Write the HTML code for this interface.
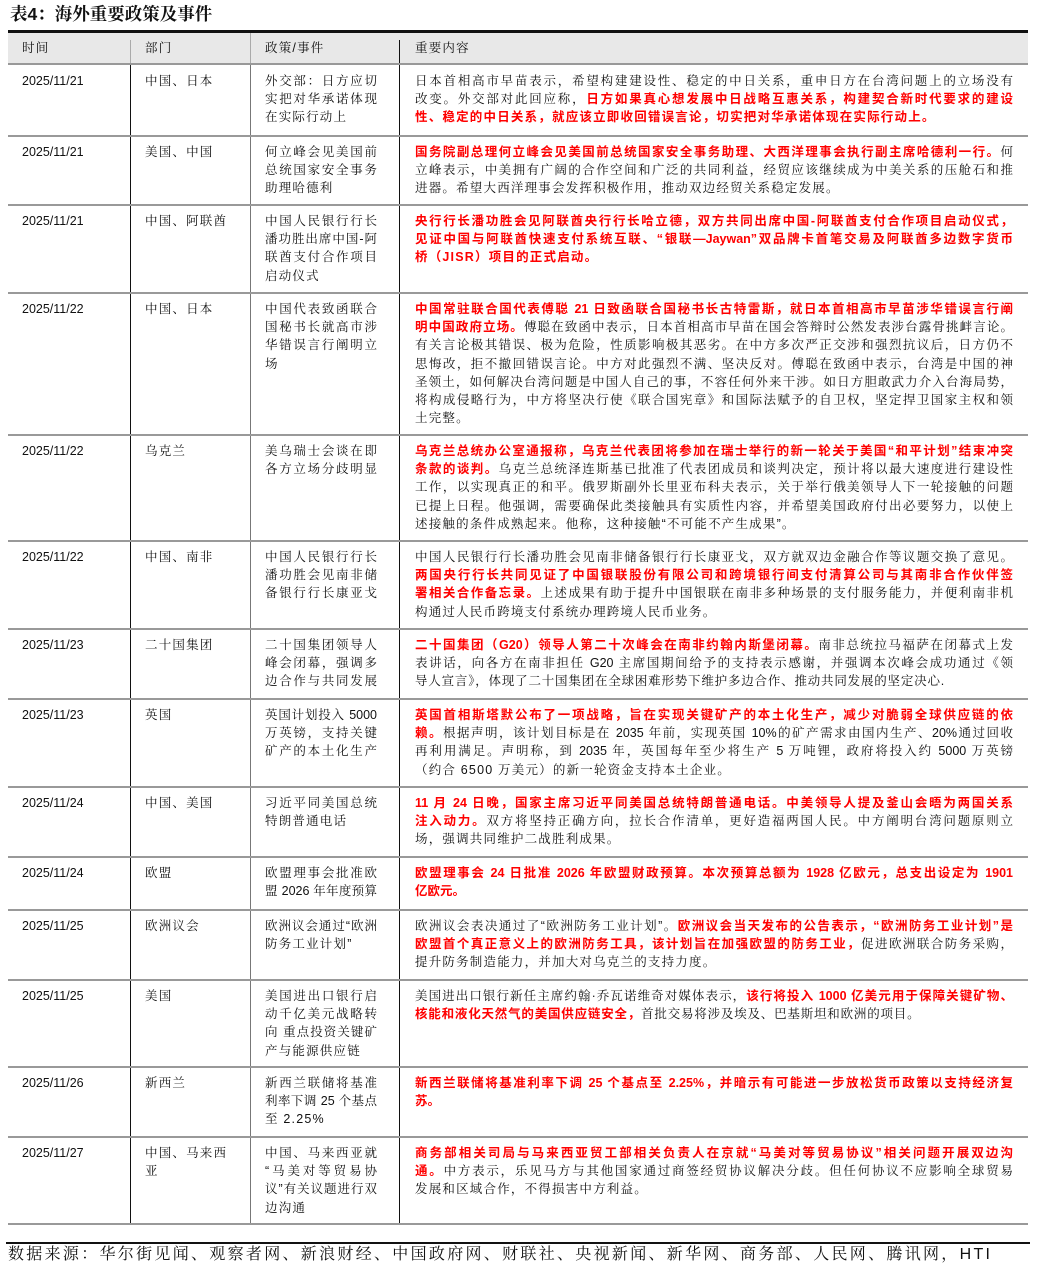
<!DOCTYPE html>
<html><head><meta charset="utf-8">
<style>
body{margin:0;background:#fff;width:1037px;height:1269px;position:relative;overflow:hidden;font-family:"Liberation Sans","Noto Serif CJK SC",serif;color:#111}
.a{position:absolute}
.t{left:10px;top:2px;font-size:17.5px;font-weight:bold;font-family:"Liberation Sans","Noto Serif CJK SC",serif;line-height:24px}
.hl{position:absolute;left:8px;width:1020px;height:2px;background:#999}
.vl{position:absolute;width:1px;background:#111}
.c{position:absolute;font-size:12.5px;line-height:18.2px;white-space:nowrap}
.c div{height:18.2px}
.d{font-family:"Liberation Sans",sans-serif;font-size:12.5px}
.s{letter-spacing:1.2px}
.k{width:598px}
.k div.j{text-align:justify;text-align-last:justify}
.r{color:#f00;font-weight:bold;font-family:"Liberation Sans","Noto Sans CJK SC",sans-serif}
.w3{width:112px}
.w3 div.j{text-align:justify;text-align-last:justify}
</style></head><body>
<div class="a t">表4：海外重要政策及事件</div>
<div class="a" style="left:8px;top:30px;width:1020px;height:3px;background:#111"></div>
<div class="a" style="left:8px;top:33px;width:1020px;height:31px;background:#e8e8e8"></div>
<div class="a" style="left:130px;top:40px;width:1px;height:24px;background:#aaa"></div>
<div class="a" style="left:250px;top:33px;width:1px;height:31px;background:#aaa"></div>
<div class="a" style="left:399px;top:40px;width:1px;height:24px;background:#111"></div>
<div class="c s" style="left:22px;top:39px">时间</div>
<div class="c s" style="left:145px;top:39px">部门</div>
<div class="c s" style="left:265px;top:39px">政策/事件</div>
<div class="c s" style="left:415px;top:39px">重要内容</div>

<div class="vl" style="left:130px;top:64px;height:1160px"></div>
<div class="vl" style="left:250px;top:64px;height:1160px;background:#777"></div>
<div class="vl" style="left:399px;top:64px;height:1160px"></div>

<div class="hl" style="top:63px"></div>
<div class="hl" style="top:135px"></div>
<div class="hl" style="top:204px"></div>
<div class="hl" style="top:292px"></div>
<div class="hl" style="top:434px"></div>
<div class="hl" style="top:540px"></div>
<div class="hl" style="top:628px"></div>
<div class="hl" style="top:698px"></div>
<div class="hl" style="top:786px"></div>
<div class="hl" style="top:856px"></div>
<div class="hl" style="top:909px"></div>
<div class="hl" style="top:979px"></div>
<div class="hl" style="top:1066px"></div>
<div class="hl" style="top:1136px"></div>
<div class="hl" style="top:1223px"></div>

<!-- Row1 -->
<div class="c d" style="left:22px;top:72px">2025/11/21</div>
<div class="c s" style="left:145px;top:72px">中国、日本</div>
<div class="c w3" style="left:265px;top:72px"><div class="j">外交部：日方应切</div><div class="j">实把对华承诺体现</div><div class="s">在实际行动上</div></div>
<div class="c k" style="left:415px;top:72px">
<div class="j">日本首相高市早苗表示，希望构建建设性、稳定的中日关系，重申日方在台湾问题上的立场没有</div>
<div class="j">改变。外交部对此回应称，<span class="r">日方如果真心想发展中日战略互惠关系，构建契合新时代要求的建设</span></div>
<div class="r s">性、稳定的中日关系，就应该立即收回错误言论，切实把对华承诺体现在实际行动上。</div></div>

<!-- Row2 -->
<div class="c d" style="left:22px;top:143px">2025/11/21</div>
<div class="c s" style="left:145px;top:143px">美国、中国</div>
<div class="c w3" style="left:265px;top:143px"><div class="j">何立峰会见美国前</div><div class="j">总统国家安全事务</div><div class="s">助理哈德利</div></div>
<div class="c k" style="left:415px;top:143px">
<div class="j"><span class="r">国务院副总理何立峰会见美国前总统国家安全事务助理、大西洋理事会执行副主席哈德利一行。</span>何</div>
<div class="j">立峰表示，中美拥有广阔的合作空间和广泛的共同利益，经贸应该继续成为中美关系的压舱石和推</div>
<div class="s">进器。希望大西洋理事会发挥积极作用，推动双边经贸关系稳定发展。</div></div>

<!-- Row3 -->
<div class="c d" style="left:22px;top:212px">2025/11/21</div>
<div class="c s" style="left:145px;top:212px">中国、阿联酋</div>
<div class="c w3" style="left:265px;top:212px"><div class="j">中国人民银行行长</div><div class="j">潘功胜出席中国-阿</div><div class="j">联酋支付合作项目</div><div class="s">启动仪式</div></div>
<div class="c k r" style="left:415px;top:212px">
<div class="j">央行行长潘功胜会见阿联酋央行行长哈立德，双方共同出席中国-阿联酋支付合作项目启动仪式，</div>
<div class="j">见证中国与阿联酋快速支付系统互联、“银联—Jaywan”双品牌卡首笔交易及阿联酋多边数字货币</div>
<div class="s">桥（JISR）项目的正式启动。</div></div>

<!-- Row4 -->
<div class="c d" style="left:22px;top:300px">2025/11/22</div>
<div class="c s" style="left:145px;top:300px">中国、日本</div>
<div class="c w3" style="left:265px;top:300px"><div class="j">中国代表致函联合</div><div class="j">国秘书长就高市涉</div><div class="j">华错误言行阐明立</div><div>场</div></div>
<div class="c k" style="left:415px;top:300px">
<div class="j r">中国常驻联合国代表傅聪 21 日致函联合国秘书长古特雷斯，就日本首相高市早苗涉华错误言行阐</div>
<div class="j"><span class="r">明中国政府立场。</span>傅聪在致函中表示，日本首相高市早苗在国会答辩时公然发表涉台露骨挑衅言论。</div>
<div class="j">有关言论极其错误、极为危险，性质影响极其恶劣。在中方多次严正交涉和强烈抗议后，日方仍不</div>
<div class="j">思悔改，拒不撤回错误言论。中方对此强烈不满、坚决反对。傅聪在致函中表示，台湾是中国的神</div>
<div class="j">圣领土，如何解决台湾问题是中国人自己的事，不容任何外来干涉。如日方胆敢武力介入台海局势，</div>
<div class="j">将构成侵略行为，中方将坚决行使《联合国宪章》和国际法赋予的自卫权，坚定捍卫国家主权和领</div>
<div class="s">土完整。</div></div>

<!-- Row5 -->
<div class="c d" style="left:22px;top:442px">2025/11/22</div>
<div class="c s" style="left:145px;top:442px">乌克兰</div>
<div class="c w3" style="left:265px;top:442px"><div class="j">美乌瑞士会谈在即</div><div class="j">各方立场分歧明显</div></div>
<div class="c k" style="left:415px;top:442px">
<div class="j r">乌克兰总统办公室通报称，乌克兰代表团将参加在瑞士举行的新一轮关于美国“和平计划”结束冲突</div>
<div class="j"><span class="r">条款的谈判。</span>乌克兰总统泽连斯基已批准了代表团成员和谈判决定，预计将以最大速度进行建设性</div>
<div class="j">工作，以实现真正的和平。俄罗斯副外长里亚布科夫表示，关于举行俄美领导人下一轮接触的问题</div>
<div class="j">已提上日程。他强调，需要确保此类接触具有实质性内容，并希望美国政府付出必要努力，以使上</div>
<div class="s">述接触的条件成熟起来。他称，这种接触“不可能不产生成果”。</div></div>

<!-- Row6 -->
<div class="c d" style="left:22px;top:548px">2025/11/22</div>
<div class="c s" style="left:145px;top:548px">中国、南非</div>
<div class="c w3" style="left:265px;top:548px"><div class="j">中国人民银行行长</div><div class="j">潘功胜会见南非储</div><div class="j">备银行行长康亚戈</div></div>
<div class="c k" style="left:415px;top:548px">
<div class="j">中国人民银行行长潘功胜会见南非储备银行行长康亚戈，双方就双边金融合作等议题交换了意见。</div>
<div class="j r">两国央行行长共同见证了中国银联股份有限公司和跨境银行间支付清算公司与其南非合作伙伴签</div>
<div class="j"><span class="r">署相关合作备忘录。</span>上述成果有助于提升中国银联在南非多种场景的支付服务能力，并便利南非机</div>
<div class="s">构通过人民币跨境支付系统办理跨境人民币业务。</div></div>

<!-- Row7 -->
<div class="c d" style="left:22px;top:636px">2025/11/23</div>
<div class="c s" style="left:145px;top:636px">二十国集团</div>
<div class="c w3" style="left:265px;top:636px"><div class="j">二十国集团领导人</div><div class="j">峰会闭幕，强调多</div><div class="j">边合作与共同发展</div></div>
<div class="c k" style="left:415px;top:636px">
<div class="j"><span class="r">二十国集团（G20）领导人第二十次峰会在南非约翰内斯堡闭幕。</span>南非总统拉马福萨在闭幕式上发</div>
<div class="j">表讲话，向各方在南非担任 G20 主席国期间给予的支持表示感谢，并强调本次峰会成功通过《领</div>
<div class="s" style="letter-spacing:0.8px">导人宣言》，体现了二十国集团在全球困难形势下维护多边合作、推动共同发展的坚定决心.</div></div>

<!-- Row8 -->
<div class="c d" style="left:22px;top:706px">2025/11/23</div>
<div class="c s" style="left:145px;top:706px">英国</div>
<div class="c w3" style="left:265px;top:706px"><div class="j">英国计划投入 5000</div><div class="j">万英镑，支持关键</div><div class="j">矿产的本土化生产</div></div>
<div class="c k" style="left:415px;top:706px">
<div class="j r">英国首相斯塔默公布了一项战略，旨在实现关键矿产的本土化生产，减少对脆弱全球供应链的依</div>
<div class="j"><span class="r">赖。</span>根据声明，该计划目标是在 2035 年前，实现英国 10%的矿产需求由国内生产、20%通过回收</div>
<div class="j">再利用满足。声明称，到 2035 年，英国每年至少将生产 5 万吨锂，政府将投入约 5000 万英镑</div>
<div class="s">（约合 6500 万美元）的新一轮资金支持本土企业。</div></div>

<!-- Row9 -->
<div class="c d" style="left:22px;top:794px">2025/11/24</div>
<div class="c s" style="left:145px;top:794px">中国、美国</div>
<div class="c w3" style="left:265px;top:794px"><div class="j">习近平同美国总统</div><div class="s">特朗普通电话</div></div>
<div class="c k" style="left:415px;top:794px">
<div class="j r">11 月 24 日晚，国家主席习近平同美国总统特朗普通电话。中美领导人提及釜山会晤为两国关系</div>
<div class="j"><span class="r">注入动力。</span>双方将坚持正确方向，拉长合作清单，更好造福两国人民。中方阐明台湾问题原则立</div>
<div class="s">场，强调共同维护二战胜利成果。</div></div>

<!-- Row10 -->
<div class="c d" style="left:22px;top:864px">2025/11/24</div>
<div class="c s" style="left:145px;top:864px">欧盟</div>
<div class="c w3" style="left:265px;top:864px"><div class="j">欧盟理事会批准欧</div><div class="j">盟 2026 年年度预算</div></div>
<div class="c k r" style="left:415px;top:864px">
<div class="j">欧盟理事会 24 日批准 2026 年欧盟财政预算。本次预算总额为 1928 亿欧元，总支出设定为 1901</div>
<div>亿欧元。</div></div>

<!-- Row11 -->
<div class="c d" style="left:22px;top:917px">2025/11/25</div>
<div class="c s" style="left:145px;top:917px">欧洲议会</div>
<div class="c w3" style="left:265px;top:917px"><div class="j">欧洲议会通过“欧洲</div><div class="s">防务工业计划”</div></div>
<div class="c k" style="left:415px;top:917px">
<div class="j">欧洲议会表决通过了“欧洲防务工业计划”。<span class="r">欧洲议会当天发布的公告表示，“欧洲防务工业计划”是</span></div>
<div class="j"><span class="r">欧盟首个真正意义上的欧洲防务工具，该计划旨在加强欧盟的防务工业，</span>促进欧洲联合防务采购，</div>
<div class="s">提升防务制造能力，并加大对乌克兰的支持力度。</div></div>

<!-- Row12 -->
<div class="c d" style="left:22px;top:987px">2025/11/25</div>
<div class="c s" style="left:145px;top:987px">美国</div>
<div class="c w3" style="left:265px;top:987px"><div class="j">美国进出口银行启</div><div class="j">动千亿美元战略转</div><div class="j">向 重点投资关键矿</div><div class="s">产与能源供应链</div></div>
<div class="c k" style="left:415px;top:987px">
<div class="j">美国进出口银行新任主席约翰·乔瓦诺维奇对媒体表示，<span class="r">该行将投入 1000 亿美元用于保障关键矿物、</span></div>
<div class="s" style="letter-spacing:0.8px"><span class="r">核能和液化天然气的美国供应链安全，</span>首批交易将涉及埃及、巴基斯坦和欧洲的项目。</div></div>

<!-- Row13 -->
<div class="c d" style="left:22px;top:1074px">2025/11/26</div>
<div class="c s" style="left:145px;top:1074px">新西兰</div>
<div class="c w3" style="left:265px;top:1074px"><div class="j">新西兰联储将基准</div><div class="j">利率下调 25 个基点</div><div class="s">至 2.25%</div></div>
<div class="c k r" style="left:415px;top:1074px">
<div class="j">新西兰联储将基准利率下调 25 个基点至 2.25%，并暗示有可能进一步放松货币政策以支持经济复</div>
<div>苏。</div></div>

<!-- Row14 -->
<div class="c d" style="left:22px;top:1144px">2025/11/27</div>
<div class="c s" style="left:145px;top:1144px"><div>中国、马来西</div><div>亚</div></div>
<div class="c w3" style="left:265px;top:1144px"><div class="j">中国、马来西亚就</div><div class="j">“马美对等贸易协</div><div class="j">议”有关议题进行双</div><div class="s">边沟通</div></div>
<div class="c k" style="left:415px;top:1144px">
<div class="j r">商务部相关司局与马来西亚贸工部相关负责人在京就“马美对等贸易协议”相关问题开展双边沟</div>
<div class="j"><span class="r">通。</span>中方表示，乐见马方与其他国家通过商签经贸协议解决分歧。但任何协议不应影响全球贸易</div>
<div class="s">发展和区域合作，不得损害中方利益。</div></div>

<div class="a" style="left:6px;top:1242px;width:1024px;height:2px;background:#111"></div>
<div class="a" style="left:8px;top:1245px;font-size:16px;line-height:20px;letter-spacing:2.3px;white-space:nowrap">数据来源：华尔街见闻、观察者网、新浪财经、中国政府网、财联社、央视新闻、新华网、商务部、人民网、腾讯网，HTI</div>
</body></html>
